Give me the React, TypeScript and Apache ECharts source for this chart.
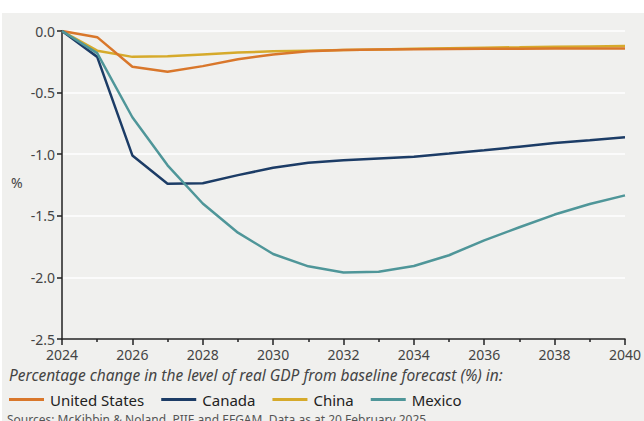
import React, { useEffect, useRef } from "react";
import * as echarts from "echarts";

const years = [2024, 2025, 2026, 2027, 2028, 2029, 2030, 2031, 2032, 2033, 2034, 2035, 2036, 2037, 2038, 2039, 2040];
const unitedStates = [0, -0.05, -0.29, -0.33, -0.285, -0.23, -0.19, -0.165, -0.155, -0.15, -0.148, -0.146, -0.145, -0.144, -0.143, -0.143, -0.142];
const canada = [0, -0.21, -1.01, -1.24, -1.236, -1.17, -1.11, -1.07, -1.05, -1.035, -1.02, -0.995, -0.968, -0.939, -0.91, -0.887, -0.863];
const china = [0, -0.16, -0.21, -0.205, -0.19, -0.175, -0.165, -0.16, -0.155, -0.15, -0.145, -0.14, -0.135, -0.132, -0.128, -0.125, -0.122];
const mexico = [0, -0.18, -0.70, -1.09, -1.40, -1.637, -1.81, -1.91, -1.96, -1.955, -1.907, -1.82, -1.70, -1.593, -1.49, -1.404, -1.334];

const seriesNames = ["United States", "Canada", "China", "Mexico"];
const seriesColors = ["#d9772b", "#1c3c66", "#d6aa2b", "#4f9699"];
const seriesValues = [unitedStates, canada, china, mexico];

const subtitle = "Percentage change in the level of real GDP from baseline forecast (%) in:";
const sourceText = "Sources: McKibbin & Noland, PIIE and EFGAM. Data as at 20 February 2025.";

const FONT = "'Noto Sans', 'Open Sans', sans-serif";

export default function App() {
  const ref = useRef<HTMLDivElement>(null);
  useEffect(() => {
    if (!ref.current) return;
    const chart = echarts.init(ref.current, undefined, { renderer: "svg" });
    const drawOrder = [2, 0, 1, 3];
    chart.setOption({
      animation: false,
      backgroundColor: "#ffffff",
      textStyle: { fontFamily: FONT },
      graphic: [
        {
          type: "rect",
          z: -10,
          shape: { x: 2, y: 13, width: 642, height: 408 },
          style: { fill: "#f0f0ee" },
          silent: true,
        },
        {
          type: "text",
          left: 11,
          top: 175,
          style: { text: "%", font: `14px ${FONT}`, fill: "#444" },
        },
        {
          type: "text",
          left: 9,
          top: 367,
          style: { text: subtitle, font: `italic 15.5px ${FONT}`, fill: "#444" },
        },
        {
          type: "text",
          left: 7,
          top: 413,
          style: { text: sourceText, font: `12px ${FONT}`, fill: "#555" },
        },
      ],
      legend: {
        left: 9,
        top: 392,
        icon: "rect",
        itemWidth: 35,
        itemHeight: 3,
        itemGap: 17,
        data: seriesNames,
        textStyle: { fontFamily: FONT, fontSize: 15, color: "#222", padding: [0, 0, 0, 1] },
        padding: 0,
      },
      grid: { left: 62, right: 18, top: 31, bottom: 82 },
      xAxis: {
        type: "value",
        min: 2024,
        max: 2040,
        interval: 2,
        axisLine: { show: true, onZero: false, lineStyle: { color: "#222", width: 1.5 } },
        axisTick: { show: true, length: 6, lineStyle: { color: "#222", width: 1.5 } },
        minorTick: { show: true, splitNumber: 2, length: 3, lineStyle: { color: "#222", width: 1.5 } },
        splitLine: { show: false },
        axisLabel: { color: "#444", fontSize: 14, fontFamily: FONT, margin: 8, formatter: (v: number) => String(v) },
      },
      yAxis: {
        type: "value",
        min: -2.5,
        max: 0,
        interval: 0.5,
        axisLine: { show: true, lineStyle: { color: "#222", width: 1.5 } },
        axisTick: { show: true, length: 5, lineStyle: { color: "#222", width: 1.5 } },
        splitLine: { show: true, lineStyle: { color: "#ffffff", width: 1.5 } },
        axisLabel: { color: "#444", fontSize: 14, fontFamily: FONT, margin: 7, formatter: (v: number) => v.toFixed(1) },
      },
      series: drawOrder.map((i) => ({
        name: seriesNames[i],
        type: "line",
        symbol: "none",
        data: years.map((y, k) => [y, seriesValues[i][k]]),
        lineStyle: { color: seriesColors[i], width: 2.5 },
        itemStyle: { color: seriesColors[i] },
        z: 3,
      })),
    });
    return () => chart.dispose();
  }, []);
  return <div ref={ref} style={{ position: "absolute", left: 0, top: 0, width: 644, height: 421 }} />;
}
